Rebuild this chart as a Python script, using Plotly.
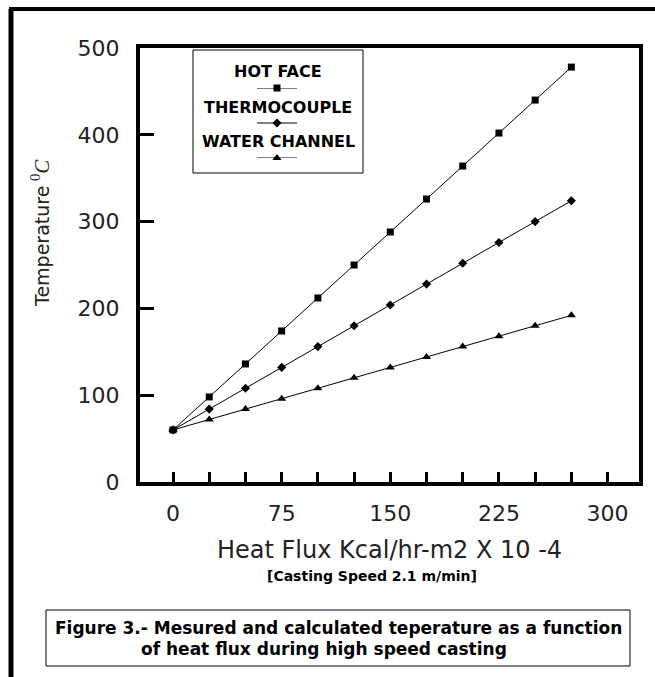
import plotly.graph_objects as go

# Heat flux (Kcal/hr-m2 x 10^-4) and computed temperatures (deg C)
heat_flux = [0, 25, 50, 75, 100, 125, 150, 175, 200, 225, 250, 275]
hot_face = [60, 98, 136, 174, 212, 250, 288, 326, 364, 402, 440, 478]
thermocouple = [60, 84, 108, 132, 156, 180, 204, 228, 252, 276, 300, 324]
water_channel = [60, 72, 84, 96, 108, 120, 132, 144, 156, 168, 180, 192]

series_names = ["HOT FACE", "THERMOCOUPLE", "WATER CHANNEL"]
series_values = [hot_face, thermocouple, water_channel]
series_symbols = ["square", "diamond", "triangle-up"]
series_sizes = [7, 7, 8]

x_label_step = 75
x_minor_step = 25
y_tick_vals = [0, 100, 200, 300, 400, 500]

W, H = 655, 677
ML, MR, MT, MB = 140, 16, 48, 195
PW, PH = W - ML - MR, H - MT - MB


def fx(px):
    return (px - ML) / PW


def fy(py):
    return (H - MB - py) / PH


TEXT_FONT = "DejaVu Sans"
INK = "#111111"
AXIS_INK = "#222222"

fig = go.Figure()

for name, vals, sym, size in zip(series_names, series_values, series_symbols, series_sizes):
    fig.add_trace(go.Scatter(
        x=heat_flux, y=vals, name=name, mode="lines+markers",
        line=dict(color="black", width=1),
        marker=dict(symbol=sym, size=size, color="black"),
        cliponaxis=False, showlegend=False,
    ))

# Legend keys: short line with a marker, stacked under each label
key_rows = [2, 1, 0]
for name, sym, size, row in zip(series_names, series_symbols, series_sizes, key_rows):
    fig.add_trace(go.Scatter(
        x=[0, 1], y=[row, row], mode="lines", line=dict(color="black", width=1),
        xaxis="x2", yaxis="y2", showlegend=False, hoverinfo="skip", cliponaxis=False,
    ))
    fig.add_trace(go.Scatter(
        x=[0.5], y=[row], mode="markers", marker=dict(symbol=sym, size=size, color="black"),
        xaxis="x2", yaxis="y2", showlegend=False, hoverinfo="skip", cliponaxis=False,
    ))

fig.update_layout(
    width=W, height=H,
    margin=dict(l=ML, r=MR, t=MT, b=MB, pad=0),
    paper_bgcolor="white", plot_bgcolor="white",
    font=dict(family=TEXT_FONT, color=INK),
    xaxis=dict(
        range=[-22.8, 321.7], tickmode="linear", tick0=0, dtick=x_label_step,
        ticks="inside", ticklen=10, tickwidth=2.5, tickcolor="black",
        minor=dict(tickmode="linear", tick0=0, dtick=x_minor_step, ticks="inside",
                   ticklen=10, tickwidth=2.5, tickcolor="black", showgrid=False),
        showline=True, linecolor="black", linewidth=4, mirror=True,
        showgrid=False, zeroline=False, ticklabelstandoff=9,
        tickfont=dict(family=TEXT_FONT, size=22, color=AXIS_INK),
    ),
    yaxis=dict(
        range=[0, 500], tickmode="array", tickvals=y_tick_vals,
        ticks="inside", ticklen=14, tickwidth=2.5, tickcolor="black",
        showline=True, linecolor="black", linewidth=4, mirror=True,
        showgrid=False, zeroline=False, ticklabelstandoff=12,
        tickfont=dict(family=TEXT_FONT, size=22, color=AXIS_INK),
    ),
    xaxis2=dict(domain=[fx(257), fx(297)], range=[0, 1], visible=False, anchor="y2", fixedrange=True),
    yaxis2=dict(domain=[fy(158), fy(88)], range=[0, 2], visible=False, anchor="x2", fixedrange=True),
)

shapes = [
    # outer page frame (left and top edges)
    dict(type="line", xref="paper", yref="paper", x0=fx(11), x1=fx(11), y0=fy(9), y1=fy(H + 5),
         line=dict(color="black", width=5)),
    dict(type="line", xref="paper", yref="paper", x0=fx(9), x1=fx(W + 5), y0=fy(9), y1=fy(9),
         line=dict(color="black", width=4)),
    # legend box
    dict(type="rect", xref="paper", yref="paper", x0=fx(193), x1=fx(363), y0=fy(173), y1=fy(50),
         line=dict(color="black", width=1), fillcolor="rgba(0,0,0,0)"),
    # caption box
    dict(type="rect", xref="paper", yref="paper", x0=fx(46), x1=fx(630), y0=fy(666), y1=fy(610),
         line=dict(color="black", width=1), fillcolor="rgba(0,0,0,0)"),
]
fig.update_layout(shapes=shapes)

annotations = []
for name, py in zip(series_names, [71, 107, 142]):
    annotations.append(dict(
        text=f"<b>{name}</b>", x=fx(278), y=fy(py), xref="paper", yref="paper",
        xanchor="center", yanchor="middle", showarrow=False,
        font=dict(family=TEXT_FONT, size=16, color="black"),
    ))

annotations += [
    dict(text="Heat Flux Kcal/hr-m2 X 10 -4", x=fx(389), y=fy(550), xref="paper", yref="paper",
         xanchor="center", yanchor="middle", showarrow=False,
         font=dict(family=TEXT_FONT, size=24, color=AXIS_INK)),
    dict(text="<b>[Casting Speed 2.1 m/min]</b>", x=fx(372), y=fy(576), xref="paper", yref="paper",
         xanchor="center", yanchor="middle", showarrow=False,
         font=dict(family=TEXT_FONT, size=14, color="black")),
    dict(text="Temperature", x=fx(42), y=fy(247), xref="paper", yref="paper",
         xanchor="center", yanchor="middle", showarrow=False, textangle=-90,
         font=dict(family=TEXT_FONT, size=19, color=AXIS_INK)),
    dict(text="<sup>0</sup><i>C</i>", x=fx(40), y=fy(170), xref="paper", yref="paper",
         xanchor="center", yanchor="middle", showarrow=False, textangle=-90,
         font=dict(family="Liberation Serif", size=21, color=AXIS_INK)),
    dict(text="<b>Figure 3.- Mesured and calculated teperature as a function</b>",
         x=fx(338), y=fy(628), xref="paper", yref="paper",
         xanchor="center", yanchor="middle", showarrow=False,
         font=dict(family=TEXT_FONT, size=17, color="black")),
    dict(text="<b>of heat flux during high speed casting</b>",
         x=fx(139), y=fy(649), xref="paper", yref="paper",
         xanchor="left", yanchor="middle", showarrow=False,
         font=dict(family=TEXT_FONT, size=17, color="black")),
]
fig.update_layout(annotations=annotations)

fig.write_html("out.html", config={"displayModeBar": False})
